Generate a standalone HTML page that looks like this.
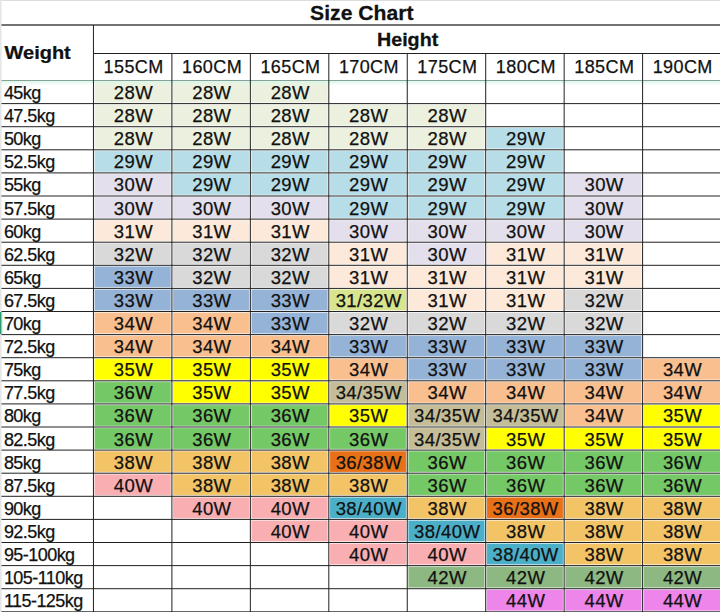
<!DOCTYPE html>
<html><head><meta charset="utf-8"><title>Size Chart</title>
<style>
html,body{margin:0;padding:0;background:#fff;width:720px;height:612px;overflow:hidden;}
svg{display:block;font-family:"Liberation Sans", sans-serif;}
text{fill:#111;stroke:#111;stroke-width:0.25px;}
</style></head>
<body>
<svg width="720" height="612" viewBox="0 0 720 612">
<defs><linearGradient id="mint" x1="0" y1="0" x2="0" y2="1"><stop offset="0" stop-color="#d4f6e4" stop-opacity="0.85"/><stop offset="0.45" stop-color="#dcf7ea" stop-opacity="0.5"/><stop offset="1" stop-color="#e8faf2" stop-opacity="0"/></linearGradient></defs>
<rect x="0" y="0" width="720" height="612" fill="#fff"/>
<rect x="94.45" y="81.50" width="76.45" height="21.10" fill="#EBF1DE" stroke="#fff" stroke-opacity="0.3" stroke-width="1"/>
<rect x="172.90" y="81.50" width="76.45" height="21.10" fill="#EBF1DE" stroke="#fff" stroke-opacity="0.3" stroke-width="1"/>
<rect x="251.35" y="81.50" width="76.45" height="21.10" fill="#EBF1DE" stroke="#fff" stroke-opacity="0.3" stroke-width="1"/>
<rect x="94.45" y="104.60" width="76.45" height="21.10" fill="#EBF1DE" stroke="#fff" stroke-opacity="0.3" stroke-width="1"/>
<rect x="172.90" y="104.60" width="76.45" height="21.10" fill="#EBF1DE" stroke="#fff" stroke-opacity="0.3" stroke-width="1"/>
<rect x="251.35" y="104.60" width="76.45" height="21.10" fill="#EBF1DE" stroke="#fff" stroke-opacity="0.3" stroke-width="1"/>
<rect x="329.80" y="104.60" width="76.45" height="21.10" fill="#EBF1DE" stroke="#fff" stroke-opacity="0.3" stroke-width="1"/>
<rect x="408.25" y="104.60" width="76.45" height="21.10" fill="#EBF1DE" stroke="#fff" stroke-opacity="0.3" stroke-width="1"/>
<rect x="94.45" y="127.70" width="76.45" height="21.10" fill="#EBF1DE" stroke="#fff" stroke-opacity="0.3" stroke-width="1"/>
<rect x="172.90" y="127.70" width="76.45" height="21.10" fill="#EBF1DE" stroke="#fff" stroke-opacity="0.3" stroke-width="1"/>
<rect x="251.35" y="127.70" width="76.45" height="21.10" fill="#EBF1DE" stroke="#fff" stroke-opacity="0.3" stroke-width="1"/>
<rect x="329.80" y="127.70" width="76.45" height="21.10" fill="#EBF1DE" stroke="#fff" stroke-opacity="0.3" stroke-width="1"/>
<rect x="408.25" y="127.70" width="76.45" height="21.10" fill="#EBF1DE" stroke="#fff" stroke-opacity="0.3" stroke-width="1"/>
<rect x="486.70" y="127.70" width="76.45" height="21.10" fill="#B7DEE8" stroke="#fff" stroke-opacity="0.3" stroke-width="1"/>
<rect x="94.45" y="150.80" width="76.45" height="21.10" fill="#B7DEE8" stroke="#fff" stroke-opacity="0.3" stroke-width="1"/>
<rect x="172.90" y="150.80" width="76.45" height="21.10" fill="#B7DEE8" stroke="#fff" stroke-opacity="0.3" stroke-width="1"/>
<rect x="251.35" y="150.80" width="76.45" height="21.10" fill="#B7DEE8" stroke="#fff" stroke-opacity="0.3" stroke-width="1"/>
<rect x="329.80" y="150.80" width="76.45" height="21.10" fill="#B7DEE8" stroke="#fff" stroke-opacity="0.3" stroke-width="1"/>
<rect x="408.25" y="150.80" width="76.45" height="21.10" fill="#B7DEE8" stroke="#fff" stroke-opacity="0.3" stroke-width="1"/>
<rect x="486.70" y="150.80" width="76.45" height="21.10" fill="#B7DEE8" stroke="#fff" stroke-opacity="0.3" stroke-width="1"/>
<rect x="94.45" y="173.90" width="76.45" height="21.10" fill="#E4DFEC" stroke="#fff" stroke-opacity="0.3" stroke-width="1"/>
<rect x="172.90" y="173.90" width="76.45" height="21.10" fill="#B7DEE8" stroke="#fff" stroke-opacity="0.3" stroke-width="1"/>
<rect x="251.35" y="173.90" width="76.45" height="21.10" fill="#B7DEE8" stroke="#fff" stroke-opacity="0.3" stroke-width="1"/>
<rect x="329.80" y="173.90" width="76.45" height="21.10" fill="#B7DEE8" stroke="#fff" stroke-opacity="0.3" stroke-width="1"/>
<rect x="408.25" y="173.90" width="76.45" height="21.10" fill="#B7DEE8" stroke="#fff" stroke-opacity="0.3" stroke-width="1"/>
<rect x="486.70" y="173.90" width="76.45" height="21.10" fill="#B7DEE8" stroke="#fff" stroke-opacity="0.3" stroke-width="1"/>
<rect x="565.15" y="173.90" width="76.45" height="21.10" fill="#E4DFEC" stroke="#fff" stroke-opacity="0.3" stroke-width="1"/>
<rect x="94.45" y="197.00" width="76.45" height="21.10" fill="#E4DFEC" stroke="#fff" stroke-opacity="0.3" stroke-width="1"/>
<rect x="172.90" y="197.00" width="76.45" height="21.10" fill="#E4DFEC" stroke="#fff" stroke-opacity="0.3" stroke-width="1"/>
<rect x="251.35" y="197.00" width="76.45" height="21.10" fill="#E4DFEC" stroke="#fff" stroke-opacity="0.3" stroke-width="1"/>
<rect x="329.80" y="197.00" width="76.45" height="21.10" fill="#B7DEE8" stroke="#fff" stroke-opacity="0.3" stroke-width="1"/>
<rect x="408.25" y="197.00" width="76.45" height="21.10" fill="#B7DEE8" stroke="#fff" stroke-opacity="0.3" stroke-width="1"/>
<rect x="486.70" y="197.00" width="76.45" height="21.10" fill="#B7DEE8" stroke="#fff" stroke-opacity="0.3" stroke-width="1"/>
<rect x="565.15" y="197.00" width="76.45" height="21.10" fill="#E4DFEC" stroke="#fff" stroke-opacity="0.3" stroke-width="1"/>
<rect x="94.45" y="220.10" width="76.45" height="21.10" fill="#FDE9D9" stroke="#fff" stroke-opacity="0.3" stroke-width="1"/>
<rect x="172.90" y="220.10" width="76.45" height="21.10" fill="#FDE9D9" stroke="#fff" stroke-opacity="0.3" stroke-width="1"/>
<rect x="251.35" y="220.10" width="76.45" height="21.10" fill="#FDE9D9" stroke="#fff" stroke-opacity="0.3" stroke-width="1"/>
<rect x="329.80" y="220.10" width="76.45" height="21.10" fill="#E4DFEC" stroke="#fff" stroke-opacity="0.3" stroke-width="1"/>
<rect x="408.25" y="220.10" width="76.45" height="21.10" fill="#E4DFEC" stroke="#fff" stroke-opacity="0.3" stroke-width="1"/>
<rect x="486.70" y="220.10" width="76.45" height="21.10" fill="#E4DFEC" stroke="#fff" stroke-opacity="0.3" stroke-width="1"/>
<rect x="565.15" y="220.10" width="76.45" height="21.10" fill="#E4DFEC" stroke="#fff" stroke-opacity="0.3" stroke-width="1"/>
<rect x="94.45" y="243.20" width="76.45" height="21.10" fill="#D9D9D9" stroke="#fff" stroke-opacity="0.3" stroke-width="1"/>
<rect x="172.90" y="243.20" width="76.45" height="21.10" fill="#D9D9D9" stroke="#fff" stroke-opacity="0.3" stroke-width="1"/>
<rect x="251.35" y="243.20" width="76.45" height="21.10" fill="#D9D9D9" stroke="#fff" stroke-opacity="0.3" stroke-width="1"/>
<rect x="329.80" y="243.20" width="76.45" height="21.10" fill="#FDE9D9" stroke="#fff" stroke-opacity="0.3" stroke-width="1"/>
<rect x="408.25" y="243.20" width="76.45" height="21.10" fill="#E4DFEC" stroke="#fff" stroke-opacity="0.3" stroke-width="1"/>
<rect x="486.70" y="243.20" width="76.45" height="21.10" fill="#FDE9D9" stroke="#fff" stroke-opacity="0.3" stroke-width="1"/>
<rect x="565.15" y="243.20" width="76.45" height="21.10" fill="#FDE9D9" stroke="#fff" stroke-opacity="0.3" stroke-width="1"/>
<rect x="94.45" y="266.30" width="76.45" height="21.10" fill="#95B3D7" stroke="#fff" stroke-opacity="0.3" stroke-width="1"/>
<rect x="172.90" y="266.30" width="76.45" height="21.10" fill="#D9D9D9" stroke="#fff" stroke-opacity="0.3" stroke-width="1"/>
<rect x="251.35" y="266.30" width="76.45" height="21.10" fill="#D9D9D9" stroke="#fff" stroke-opacity="0.3" stroke-width="1"/>
<rect x="329.80" y="266.30" width="76.45" height="21.10" fill="#FDE9D9" stroke="#fff" stroke-opacity="0.3" stroke-width="1"/>
<rect x="408.25" y="266.30" width="76.45" height="21.10" fill="#FDE9D9" stroke="#fff" stroke-opacity="0.3" stroke-width="1"/>
<rect x="486.70" y="266.30" width="76.45" height="21.10" fill="#FDE9D9" stroke="#fff" stroke-opacity="0.3" stroke-width="1"/>
<rect x="565.15" y="266.30" width="76.45" height="21.10" fill="#FDE9D9" stroke="#fff" stroke-opacity="0.3" stroke-width="1"/>
<rect x="94.45" y="289.40" width="76.45" height="21.10" fill="#95B3D7" stroke="#fff" stroke-opacity="0.3" stroke-width="1"/>
<rect x="172.90" y="289.40" width="76.45" height="21.10" fill="#95B3D7" stroke="#fff" stroke-opacity="0.3" stroke-width="1"/>
<rect x="251.35" y="289.40" width="76.45" height="21.10" fill="#95B3D7" stroke="#fff" stroke-opacity="0.3" stroke-width="1"/>
<rect x="329.80" y="289.40" width="76.45" height="21.10" fill="#D9E48E" stroke="#fff" stroke-opacity="0.3" stroke-width="1"/>
<rect x="408.25" y="289.40" width="76.45" height="21.10" fill="#FDE9D9" stroke="#fff" stroke-opacity="0.3" stroke-width="1"/>
<rect x="486.70" y="289.40" width="76.45" height="21.10" fill="#FDE9D9" stroke="#fff" stroke-opacity="0.3" stroke-width="1"/>
<rect x="565.15" y="289.40" width="76.45" height="21.10" fill="#D9D9D9" stroke="#fff" stroke-opacity="0.3" stroke-width="1"/>
<rect x="94.45" y="312.50" width="76.45" height="21.10" fill="#FABF8F" stroke="#fff" stroke-opacity="0.3" stroke-width="1"/>
<rect x="172.90" y="312.50" width="76.45" height="21.10" fill="#FABF8F" stroke="#fff" stroke-opacity="0.3" stroke-width="1"/>
<rect x="251.35" y="312.50" width="76.45" height="21.10" fill="#95B3D7" stroke="#fff" stroke-opacity="0.3" stroke-width="1"/>
<rect x="329.80" y="312.50" width="76.45" height="21.10" fill="#D9D9D9" stroke="#fff" stroke-opacity="0.3" stroke-width="1"/>
<rect x="408.25" y="312.50" width="76.45" height="21.10" fill="#D9D9D9" stroke="#fff" stroke-opacity="0.3" stroke-width="1"/>
<rect x="486.70" y="312.50" width="76.45" height="21.10" fill="#D9D9D9" stroke="#fff" stroke-opacity="0.3" stroke-width="1"/>
<rect x="565.15" y="312.50" width="76.45" height="21.10" fill="#D9D9D9" stroke="#fff" stroke-opacity="0.3" stroke-width="1"/>
<rect x="94.45" y="335.60" width="76.45" height="21.10" fill="#FABF8F" stroke="#fff" stroke-opacity="0.3" stroke-width="1"/>
<rect x="172.90" y="335.60" width="76.45" height="21.10" fill="#FABF8F" stroke="#fff" stroke-opacity="0.3" stroke-width="1"/>
<rect x="251.35" y="335.60" width="76.45" height="21.10" fill="#FABF8F" stroke="#fff" stroke-opacity="0.3" stroke-width="1"/>
<rect x="329.80" y="335.60" width="76.45" height="21.10" fill="#95B3D7" stroke="#fff" stroke-opacity="0.3" stroke-width="1"/>
<rect x="408.25" y="335.60" width="76.45" height="21.10" fill="#95B3D7" stroke="#fff" stroke-opacity="0.3" stroke-width="1"/>
<rect x="486.70" y="335.60" width="76.45" height="21.10" fill="#95B3D7" stroke="#fff" stroke-opacity="0.3" stroke-width="1"/>
<rect x="565.15" y="335.60" width="76.45" height="21.10" fill="#95B3D7" stroke="#fff" stroke-opacity="0.3" stroke-width="1"/>
<rect x="94.45" y="358.70" width="76.45" height="21.10" fill="#FFFF00" stroke="#fff" stroke-opacity="0.3" stroke-width="1"/>
<rect x="172.90" y="358.70" width="76.45" height="21.10" fill="#FFFF00" stroke="#fff" stroke-opacity="0.3" stroke-width="1"/>
<rect x="251.35" y="358.70" width="76.45" height="21.10" fill="#FFFF00" stroke="#fff" stroke-opacity="0.3" stroke-width="1"/>
<rect x="329.80" y="358.70" width="76.45" height="21.10" fill="#FABF8F" stroke="#fff" stroke-opacity="0.3" stroke-width="1"/>
<rect x="408.25" y="358.70" width="76.45" height="21.10" fill="#95B3D7" stroke="#fff" stroke-opacity="0.3" stroke-width="1"/>
<rect x="486.70" y="358.70" width="76.45" height="21.10" fill="#95B3D7" stroke="#fff" stroke-opacity="0.3" stroke-width="1"/>
<rect x="565.15" y="358.70" width="76.45" height="21.10" fill="#95B3D7" stroke="#fff" stroke-opacity="0.3" stroke-width="1"/>
<rect x="643.60" y="358.70" width="79.40" height="21.10" fill="#FABF8F" stroke="#fff" stroke-opacity="0.3" stroke-width="1"/>
<rect x="94.45" y="381.80" width="76.45" height="21.10" fill="#74C866" stroke="#fff" stroke-opacity="0.3" stroke-width="1"/>
<rect x="172.90" y="381.80" width="76.45" height="21.10" fill="#FFFF00" stroke="#fff" stroke-opacity="0.3" stroke-width="1"/>
<rect x="251.35" y="381.80" width="76.45" height="21.10" fill="#FFFF00" stroke="#fff" stroke-opacity="0.3" stroke-width="1"/>
<rect x="329.80" y="381.80" width="76.45" height="21.10" fill="#C4BD97" stroke="#fff" stroke-opacity="0.3" stroke-width="1"/>
<rect x="408.25" y="381.80" width="76.45" height="21.10" fill="#FABF8F" stroke="#fff" stroke-opacity="0.3" stroke-width="1"/>
<rect x="486.70" y="381.80" width="76.45" height="21.10" fill="#FABF8F" stroke="#fff" stroke-opacity="0.3" stroke-width="1"/>
<rect x="565.15" y="381.80" width="76.45" height="21.10" fill="#FABF8F" stroke="#fff" stroke-opacity="0.3" stroke-width="1"/>
<rect x="643.60" y="381.80" width="79.40" height="21.10" fill="#FABF8F" stroke="#fff" stroke-opacity="0.3" stroke-width="1"/>
<rect x="94.45" y="404.90" width="76.45" height="21.10" fill="#74C866" stroke="#fff" stroke-opacity="0.3" stroke-width="1"/>
<rect x="172.90" y="404.90" width="76.45" height="21.10" fill="#74C866" stroke="#fff" stroke-opacity="0.3" stroke-width="1"/>
<rect x="251.35" y="404.90" width="76.45" height="21.10" fill="#74C866" stroke="#fff" stroke-opacity="0.3" stroke-width="1"/>
<rect x="329.80" y="404.90" width="76.45" height="21.10" fill="#FFFF00" stroke="#fff" stroke-opacity="0.3" stroke-width="1"/>
<rect x="408.25" y="404.90" width="76.45" height="21.10" fill="#C4BD97" stroke="#fff" stroke-opacity="0.3" stroke-width="1"/>
<rect x="486.70" y="404.90" width="76.45" height="21.10" fill="#C4BD97" stroke="#fff" stroke-opacity="0.3" stroke-width="1"/>
<rect x="565.15" y="404.90" width="76.45" height="21.10" fill="#FABF8F" stroke="#fff" stroke-opacity="0.3" stroke-width="1"/>
<rect x="643.60" y="404.90" width="79.40" height="21.10" fill="#FFFF00" stroke="#fff" stroke-opacity="0.3" stroke-width="1"/>
<rect x="94.45" y="428.00" width="76.45" height="21.10" fill="#74C866" stroke="#fff" stroke-opacity="0.3" stroke-width="1"/>
<rect x="172.90" y="428.00" width="76.45" height="21.10" fill="#74C866" stroke="#fff" stroke-opacity="0.3" stroke-width="1"/>
<rect x="251.35" y="428.00" width="76.45" height="21.10" fill="#74C866" stroke="#fff" stroke-opacity="0.3" stroke-width="1"/>
<rect x="329.80" y="428.00" width="76.45" height="21.10" fill="#74C866" stroke="#fff" stroke-opacity="0.3" stroke-width="1"/>
<rect x="408.25" y="428.00" width="76.45" height="21.10" fill="#C4BD97" stroke="#fff" stroke-opacity="0.3" stroke-width="1"/>
<rect x="486.70" y="428.00" width="76.45" height="21.10" fill="#FFFF00" stroke="#fff" stroke-opacity="0.3" stroke-width="1"/>
<rect x="565.15" y="428.00" width="76.45" height="21.10" fill="#FFFF00" stroke="#fff" stroke-opacity="0.3" stroke-width="1"/>
<rect x="643.60" y="428.00" width="79.40" height="21.10" fill="#FFFF00" stroke="#fff" stroke-opacity="0.3" stroke-width="1"/>
<rect x="94.45" y="451.10" width="76.45" height="21.10" fill="#F3C466" stroke="#fff" stroke-opacity="0.3" stroke-width="1"/>
<rect x="172.90" y="451.10" width="76.45" height="21.10" fill="#F3C466" stroke="#fff" stroke-opacity="0.3" stroke-width="1"/>
<rect x="251.35" y="451.10" width="76.45" height="21.10" fill="#F3C466" stroke="#fff" stroke-opacity="0.3" stroke-width="1"/>
<rect x="329.80" y="451.10" width="76.45" height="21.10" fill="#E87016" stroke="#fff" stroke-opacity="0.3" stroke-width="1"/>
<rect x="408.25" y="451.10" width="76.45" height="21.10" fill="#74C866" stroke="#fff" stroke-opacity="0.3" stroke-width="1"/>
<rect x="486.70" y="451.10" width="76.45" height="21.10" fill="#74C866" stroke="#fff" stroke-opacity="0.3" stroke-width="1"/>
<rect x="565.15" y="451.10" width="76.45" height="21.10" fill="#74C866" stroke="#fff" stroke-opacity="0.3" stroke-width="1"/>
<rect x="643.60" y="451.10" width="79.40" height="21.10" fill="#74C866" stroke="#fff" stroke-opacity="0.3" stroke-width="1"/>
<rect x="94.45" y="474.20" width="76.45" height="21.10" fill="#F9AEB1" stroke="#fff" stroke-opacity="0.3" stroke-width="1"/>
<rect x="172.90" y="474.20" width="76.45" height="21.10" fill="#F3C466" stroke="#fff" stroke-opacity="0.3" stroke-width="1"/>
<rect x="251.35" y="474.20" width="76.45" height="21.10" fill="#F3C466" stroke="#fff" stroke-opacity="0.3" stroke-width="1"/>
<rect x="329.80" y="474.20" width="76.45" height="21.10" fill="#F3C466" stroke="#fff" stroke-opacity="0.3" stroke-width="1"/>
<rect x="408.25" y="474.20" width="76.45" height="21.10" fill="#74C866" stroke="#fff" stroke-opacity="0.3" stroke-width="1"/>
<rect x="486.70" y="474.20" width="76.45" height="21.10" fill="#74C866" stroke="#fff" stroke-opacity="0.3" stroke-width="1"/>
<rect x="565.15" y="474.20" width="76.45" height="21.10" fill="#74C866" stroke="#fff" stroke-opacity="0.3" stroke-width="1"/>
<rect x="643.60" y="474.20" width="79.40" height="21.10" fill="#74C866" stroke="#fff" stroke-opacity="0.3" stroke-width="1"/>
<rect x="172.90" y="497.30" width="76.45" height="21.10" fill="#F9AEB1" stroke="#fff" stroke-opacity="0.3" stroke-width="1"/>
<rect x="251.35" y="497.30" width="76.45" height="21.10" fill="#F9AEB1" stroke="#fff" stroke-opacity="0.3" stroke-width="1"/>
<rect x="329.80" y="497.30" width="76.45" height="21.10" fill="#4BAFC8" stroke="#fff" stroke-opacity="0.3" stroke-width="1"/>
<rect x="408.25" y="497.30" width="76.45" height="21.10" fill="#F3C466" stroke="#fff" stroke-opacity="0.3" stroke-width="1"/>
<rect x="486.70" y="497.30" width="76.45" height="21.10" fill="#E87016" stroke="#fff" stroke-opacity="0.3" stroke-width="1"/>
<rect x="565.15" y="497.30" width="76.45" height="21.10" fill="#F3C466" stroke="#fff" stroke-opacity="0.3" stroke-width="1"/>
<rect x="643.60" y="497.30" width="79.40" height="21.10" fill="#F3C466" stroke="#fff" stroke-opacity="0.3" stroke-width="1"/>
<rect x="251.35" y="520.40" width="76.45" height="21.10" fill="#F9AEB1" stroke="#fff" stroke-opacity="0.3" stroke-width="1"/>
<rect x="329.80" y="520.40" width="76.45" height="21.10" fill="#F9AEB1" stroke="#fff" stroke-opacity="0.3" stroke-width="1"/>
<rect x="408.25" y="520.40" width="76.45" height="21.10" fill="#4BAFC8" stroke="#fff" stroke-opacity="0.3" stroke-width="1"/>
<rect x="486.70" y="520.40" width="76.45" height="21.10" fill="#F3C466" stroke="#fff" stroke-opacity="0.3" stroke-width="1"/>
<rect x="565.15" y="520.40" width="76.45" height="21.10" fill="#F3C466" stroke="#fff" stroke-opacity="0.3" stroke-width="1"/>
<rect x="643.60" y="520.40" width="79.40" height="21.10" fill="#F3C466" stroke="#fff" stroke-opacity="0.3" stroke-width="1"/>
<rect x="329.80" y="543.50" width="76.45" height="21.10" fill="#F9AEB1" stroke="#fff" stroke-opacity="0.3" stroke-width="1"/>
<rect x="408.25" y="543.50" width="76.45" height="21.10" fill="#F9AEB1" stroke="#fff" stroke-opacity="0.3" stroke-width="1"/>
<rect x="486.70" y="543.50" width="76.45" height="21.10" fill="#4BAFC8" stroke="#fff" stroke-opacity="0.3" stroke-width="1"/>
<rect x="565.15" y="543.50" width="76.45" height="21.10" fill="#F3C466" stroke="#fff" stroke-opacity="0.3" stroke-width="1"/>
<rect x="643.60" y="543.50" width="79.40" height="21.10" fill="#F3C466" stroke="#fff" stroke-opacity="0.3" stroke-width="1"/>
<rect x="408.25" y="566.60" width="76.45" height="21.10" fill="#8DB881" stroke="#fff" stroke-opacity="0.3" stroke-width="1"/>
<rect x="486.70" y="566.60" width="76.45" height="21.10" fill="#8DB881" stroke="#fff" stroke-opacity="0.3" stroke-width="1"/>
<rect x="565.15" y="566.60" width="76.45" height="21.10" fill="#8DB881" stroke="#fff" stroke-opacity="0.3" stroke-width="1"/>
<rect x="643.60" y="566.60" width="79.40" height="21.10" fill="#8DB881" stroke="#fff" stroke-opacity="0.3" stroke-width="1"/>
<rect x="486.70" y="589.70" width="76.45" height="21.10" fill="#EE85EA" stroke="#fff" stroke-opacity="0.3" stroke-width="1"/>
<rect x="565.15" y="589.70" width="76.45" height="21.10" fill="#EE85EA" stroke="#fff" stroke-opacity="0.3" stroke-width="1"/>
<rect x="643.60" y="589.70" width="79.40" height="21.10" fill="#EE85EA" stroke="#fff" stroke-opacity="0.3" stroke-width="1"/>
<rect x="1.50" y="81.00" width="720.00" height="5.00" fill="url(#mint)"/>
<rect x="0.00" y="0.00" width="720.00" height="1.00" fill="#dcdcdc"/>
<rect x="0.00" y="0.00" width="1.60" height="612.00" fill="#e6e6e6"/>
<rect x="0.00" y="312.00" width="1.60" height="22.10" fill="#2f9a72"/>
<rect x="1.60" y="312.00" width="1.00" height="22.10" fill="#bfeedd" opacity="0.8"/>
<rect x="1.50" y="24.00" width="720.00" height="2.00" fill="#737373"/>
<rect x="93.45" y="53.00" width="720.00" height="1.00" fill="#222222"/>
<rect x="1.50" y="80.00" width="720.00" height="1.00" fill="#86a199"/>
<rect x="1.50" y="103.10" width="720.00" height="1.00" fill="#222222"/>
<rect x="1.50" y="126.20" width="720.00" height="1.00" fill="#222222"/>
<rect x="1.50" y="149.30" width="720.00" height="1.00" fill="#222222"/>
<rect x="1.50" y="172.40" width="720.00" height="1.00" fill="#222222"/>
<rect x="1.50" y="195.50" width="720.00" height="1.00" fill="#222222"/>
<rect x="1.50" y="218.60" width="720.00" height="1.00" fill="#222222"/>
<rect x="1.50" y="241.70" width="720.00" height="1.00" fill="#222222"/>
<rect x="1.50" y="264.80" width="720.00" height="1.00" fill="#222222"/>
<rect x="1.50" y="287.90" width="720.00" height="1.00" fill="#222222"/>
<rect x="1.50" y="311.00" width="720.00" height="1.00" fill="#222222"/>
<rect x="1.50" y="334.10" width="720.00" height="1.00" fill="#222222"/>
<rect x="1.50" y="357.20" width="720.00" height="1.00" fill="#222222"/>
<rect x="1.50" y="380.30" width="720.00" height="1.00" fill="#222222"/>
<rect x="1.50" y="403.40" width="720.00" height="1.00" fill="#222222"/>
<rect x="1.50" y="426.50" width="720.00" height="1.00" fill="#222222"/>
<rect x="1.50" y="449.60" width="720.00" height="1.00" fill="#222222"/>
<rect x="1.50" y="472.70" width="720.00" height="1.00" fill="#222222"/>
<rect x="1.50" y="495.80" width="720.00" height="1.00" fill="#222222"/>
<rect x="1.50" y="518.90" width="720.00" height="1.00" fill="#222222"/>
<rect x="1.50" y="542.00" width="720.00" height="1.00" fill="#222222"/>
<rect x="1.50" y="565.10" width="720.00" height="1.00" fill="#222222"/>
<rect x="1.50" y="588.20" width="720.00" height="1.00" fill="#222222"/>
<rect x="1.50" y="611.30" width="720.00" height="1.00" fill="#222222"/>
<rect x="92.95" y="25.00" width="1.00" height="612.00" fill="#222222"/>
<rect x="171.40" y="53.00" width="1.00" height="612.00" fill="#222222"/>
<rect x="249.85" y="53.00" width="1.00" height="612.00" fill="#222222"/>
<rect x="328.30" y="53.00" width="1.00" height="612.00" fill="#222222"/>
<rect x="406.75" y="53.00" width="1.00" height="612.00" fill="#222222"/>
<rect x="485.20" y="53.00" width="1.00" height="612.00" fill="#222222"/>
<rect x="563.65" y="53.00" width="1.00" height="612.00" fill="#222222"/>
<rect x="642.10" y="53.00" width="1.00" height="612.00" fill="#222222"/>
<rect x="720.55" y="53.00" width="1.00" height="612.00" fill="#222222"/>
<text transform="translate(361.80,19.60) scale(1.058,1)" font-size="20" text-anchor="middle" font-weight="bold">Size Chart</text>
<text transform="translate(407.60,45.60) scale(1.095,1)" font-size="18" text-anchor="middle" font-weight="bold">Height</text>
<text transform="translate(4.60,58.90) scale(1.11,1)" font-size="18" font-weight="bold">Weight</text>
<text x="133.58" y="73.30" font-size="18" text-anchor="middle" letter-spacing="0.4">155CM</text>
<text x="212.03" y="73.30" font-size="18" text-anchor="middle" letter-spacing="0.4">160CM</text>
<text x="290.48" y="73.30" font-size="18" text-anchor="middle" letter-spacing="0.4">165CM</text>
<text x="368.92" y="73.30" font-size="18" text-anchor="middle" letter-spacing="0.4">170CM</text>
<text x="447.38" y="73.30" font-size="18" text-anchor="middle" letter-spacing="0.4">175CM</text>
<text x="525.83" y="73.30" font-size="18" text-anchor="middle" letter-spacing="0.4">180CM</text>
<text x="604.27" y="73.30" font-size="18" text-anchor="middle" letter-spacing="0.4">185CM</text>
<text x="682.73" y="73.30" font-size="18" text-anchor="middle" letter-spacing="0.4">190CM</text>
<text x="3.90" y="99.05" font-size="18" letter-spacing="-0.55">45kg</text>
<text x="133.38" y="99.05" font-size="18.5" text-anchor="middle" letter-spacing="0.4">28W</text>
<text x="211.82" y="99.05" font-size="18.5" text-anchor="middle" letter-spacing="0.4">28W</text>
<text x="290.28" y="99.05" font-size="18.5" text-anchor="middle" letter-spacing="0.4">28W</text>
<text x="3.90" y="122.15" font-size="18" letter-spacing="-0.55">47.5kg</text>
<text x="133.38" y="122.15" font-size="18.5" text-anchor="middle" letter-spacing="0.4">28W</text>
<text x="211.82" y="122.15" font-size="18.5" text-anchor="middle" letter-spacing="0.4">28W</text>
<text x="290.28" y="122.15" font-size="18.5" text-anchor="middle" letter-spacing="0.4">28W</text>
<text x="368.72" y="122.15" font-size="18.5" text-anchor="middle" letter-spacing="0.4">28W</text>
<text x="447.18" y="122.15" font-size="18.5" text-anchor="middle" letter-spacing="0.4">28W</text>
<text x="3.90" y="145.25" font-size="18" letter-spacing="-0.55">50kg</text>
<text x="133.38" y="145.25" font-size="18.5" text-anchor="middle" letter-spacing="0.4">28W</text>
<text x="211.82" y="145.25" font-size="18.5" text-anchor="middle" letter-spacing="0.4">28W</text>
<text x="290.28" y="145.25" font-size="18.5" text-anchor="middle" letter-spacing="0.4">28W</text>
<text x="368.72" y="145.25" font-size="18.5" text-anchor="middle" letter-spacing="0.4">28W</text>
<text x="447.18" y="145.25" font-size="18.5" text-anchor="middle" letter-spacing="0.4">28W</text>
<text x="525.63" y="145.25" font-size="18.5" text-anchor="middle" letter-spacing="0.4">29W</text>
<text x="3.90" y="168.35" font-size="18" letter-spacing="-0.55">52.5kg</text>
<text x="133.38" y="168.35" font-size="18.5" text-anchor="middle" letter-spacing="0.4">29W</text>
<text x="211.82" y="168.35" font-size="18.5" text-anchor="middle" letter-spacing="0.4">29W</text>
<text x="290.28" y="168.35" font-size="18.5" text-anchor="middle" letter-spacing="0.4">29W</text>
<text x="368.72" y="168.35" font-size="18.5" text-anchor="middle" letter-spacing="0.4">29W</text>
<text x="447.18" y="168.35" font-size="18.5" text-anchor="middle" letter-spacing="0.4">29W</text>
<text x="525.63" y="168.35" font-size="18.5" text-anchor="middle" letter-spacing="0.4">29W</text>
<text x="3.90" y="191.45" font-size="18" letter-spacing="-0.55">55kg</text>
<text x="133.38" y="191.45" font-size="18.5" text-anchor="middle" letter-spacing="0.4">30W</text>
<text x="211.82" y="191.45" font-size="18.5" text-anchor="middle" letter-spacing="0.4">29W</text>
<text x="290.28" y="191.45" font-size="18.5" text-anchor="middle" letter-spacing="0.4">29W</text>
<text x="368.72" y="191.45" font-size="18.5" text-anchor="middle" letter-spacing="0.4">29W</text>
<text x="447.18" y="191.45" font-size="18.5" text-anchor="middle" letter-spacing="0.4">29W</text>
<text x="525.63" y="191.45" font-size="18.5" text-anchor="middle" letter-spacing="0.4">29W</text>
<text x="604.08" y="191.45" font-size="18.5" text-anchor="middle" letter-spacing="0.4">30W</text>
<text x="3.90" y="214.55" font-size="18" letter-spacing="-0.55">57.5kg</text>
<text x="133.38" y="214.55" font-size="18.5" text-anchor="middle" letter-spacing="0.4">30W</text>
<text x="211.82" y="214.55" font-size="18.5" text-anchor="middle" letter-spacing="0.4">30W</text>
<text x="290.28" y="214.55" font-size="18.5" text-anchor="middle" letter-spacing="0.4">30W</text>
<text x="368.72" y="214.55" font-size="18.5" text-anchor="middle" letter-spacing="0.4">29W</text>
<text x="447.18" y="214.55" font-size="18.5" text-anchor="middle" letter-spacing="0.4">29W</text>
<text x="525.63" y="214.55" font-size="18.5" text-anchor="middle" letter-spacing="0.4">29W</text>
<text x="604.08" y="214.55" font-size="18.5" text-anchor="middle" letter-spacing="0.4">30W</text>
<text x="3.90" y="237.65" font-size="18" letter-spacing="-0.55">60kg</text>
<text x="133.38" y="237.65" font-size="18.5" text-anchor="middle" letter-spacing="0.4">31W</text>
<text x="211.82" y="237.65" font-size="18.5" text-anchor="middle" letter-spacing="0.4">31W</text>
<text x="290.28" y="237.65" font-size="18.5" text-anchor="middle" letter-spacing="0.4">31W</text>
<text x="368.72" y="237.65" font-size="18.5" text-anchor="middle" letter-spacing="0.4">30W</text>
<text x="447.18" y="237.65" font-size="18.5" text-anchor="middle" letter-spacing="0.4">30W</text>
<text x="525.63" y="237.65" font-size="18.5" text-anchor="middle" letter-spacing="0.4">30W</text>
<text x="604.08" y="237.65" font-size="18.5" text-anchor="middle" letter-spacing="0.4">30W</text>
<text x="3.90" y="260.75" font-size="18" letter-spacing="-0.55">62.5kg</text>
<text x="133.38" y="260.75" font-size="18.5" text-anchor="middle" letter-spacing="0.4">32W</text>
<text x="211.82" y="260.75" font-size="18.5" text-anchor="middle" letter-spacing="0.4">32W</text>
<text x="290.28" y="260.75" font-size="18.5" text-anchor="middle" letter-spacing="0.4">32W</text>
<text x="368.72" y="260.75" font-size="18.5" text-anchor="middle" letter-spacing="0.4">31W</text>
<text x="447.18" y="260.75" font-size="18.5" text-anchor="middle" letter-spacing="0.4">30W</text>
<text x="525.63" y="260.75" font-size="18.5" text-anchor="middle" letter-spacing="0.4">31W</text>
<text x="604.08" y="260.75" font-size="18.5" text-anchor="middle" letter-spacing="0.4">31W</text>
<text x="3.90" y="283.85" font-size="18" letter-spacing="-0.55">65kg</text>
<text x="133.38" y="283.85" font-size="18.5" text-anchor="middle" letter-spacing="0.4">33W</text>
<text x="211.82" y="283.85" font-size="18.5" text-anchor="middle" letter-spacing="0.4">32W</text>
<text x="290.28" y="283.85" font-size="18.5" text-anchor="middle" letter-spacing="0.4">32W</text>
<text x="368.72" y="283.85" font-size="18.5" text-anchor="middle" letter-spacing="0.4">31W</text>
<text x="447.18" y="283.85" font-size="18.5" text-anchor="middle" letter-spacing="0.4">31W</text>
<text x="525.63" y="283.85" font-size="18.5" text-anchor="middle" letter-spacing="0.4">31W</text>
<text x="604.08" y="283.85" font-size="18.5" text-anchor="middle" letter-spacing="0.4">31W</text>
<text x="3.90" y="306.95" font-size="18" letter-spacing="-0.55">67.5kg</text>
<text x="133.38" y="306.95" font-size="18.5" text-anchor="middle" letter-spacing="0.4">33W</text>
<text x="211.82" y="306.95" font-size="18.5" text-anchor="middle" letter-spacing="0.4">33W</text>
<text x="290.28" y="306.95" font-size="18.5" text-anchor="middle" letter-spacing="0.4">33W</text>
<text x="368.72" y="306.95" font-size="18.5" text-anchor="middle" letter-spacing="0.4">31/32W</text>
<text x="447.18" y="306.95" font-size="18.5" text-anchor="middle" letter-spacing="0.4">31W</text>
<text x="525.63" y="306.95" font-size="18.5" text-anchor="middle" letter-spacing="0.4">31W</text>
<text x="604.08" y="306.95" font-size="18.5" text-anchor="middle" letter-spacing="0.4">32W</text>
<text x="3.90" y="330.05" font-size="18" letter-spacing="-0.55">70kg</text>
<text x="133.38" y="330.05" font-size="18.5" text-anchor="middle" letter-spacing="0.4">34W</text>
<text x="211.82" y="330.05" font-size="18.5" text-anchor="middle" letter-spacing="0.4">34W</text>
<text x="290.28" y="330.05" font-size="18.5" text-anchor="middle" letter-spacing="0.4">33W</text>
<text x="368.72" y="330.05" font-size="18.5" text-anchor="middle" letter-spacing="0.4">32W</text>
<text x="447.18" y="330.05" font-size="18.5" text-anchor="middle" letter-spacing="0.4">32W</text>
<text x="525.63" y="330.05" font-size="18.5" text-anchor="middle" letter-spacing="0.4">32W</text>
<text x="604.08" y="330.05" font-size="18.5" text-anchor="middle" letter-spacing="0.4">32W</text>
<text x="3.90" y="353.15" font-size="18" letter-spacing="-0.55">72.5kg</text>
<text x="133.38" y="353.15" font-size="18.5" text-anchor="middle" letter-spacing="0.4">34W</text>
<text x="211.82" y="353.15" font-size="18.5" text-anchor="middle" letter-spacing="0.4">34W</text>
<text x="290.28" y="353.15" font-size="18.5" text-anchor="middle" letter-spacing="0.4">34W</text>
<text x="368.72" y="353.15" font-size="18.5" text-anchor="middle" letter-spacing="0.4">33W</text>
<text x="447.18" y="353.15" font-size="18.5" text-anchor="middle" letter-spacing="0.4">33W</text>
<text x="525.63" y="353.15" font-size="18.5" text-anchor="middle" letter-spacing="0.4">33W</text>
<text x="604.08" y="353.15" font-size="18.5" text-anchor="middle" letter-spacing="0.4">33W</text>
<text x="3.90" y="376.25" font-size="18" letter-spacing="-0.55">75kg</text>
<text x="133.38" y="376.25" font-size="18.5" text-anchor="middle" letter-spacing="0.4">35W</text>
<text x="211.82" y="376.25" font-size="18.5" text-anchor="middle" letter-spacing="0.4">35W</text>
<text x="290.28" y="376.25" font-size="18.5" text-anchor="middle" letter-spacing="0.4">35W</text>
<text x="368.72" y="376.25" font-size="18.5" text-anchor="middle" letter-spacing="0.4">34W</text>
<text x="447.18" y="376.25" font-size="18.5" text-anchor="middle" letter-spacing="0.4">33W</text>
<text x="525.63" y="376.25" font-size="18.5" text-anchor="middle" letter-spacing="0.4">33W</text>
<text x="604.08" y="376.25" font-size="18.5" text-anchor="middle" letter-spacing="0.4">33W</text>
<text x="682.53" y="376.25" font-size="18.5" text-anchor="middle" letter-spacing="0.4">34W</text>
<text x="3.90" y="399.35" font-size="18" letter-spacing="-0.55">77.5kg</text>
<text x="133.38" y="399.35" font-size="18.5" text-anchor="middle" letter-spacing="0.4">36W</text>
<text x="211.82" y="399.35" font-size="18.5" text-anchor="middle" letter-spacing="0.4">35W</text>
<text x="290.28" y="399.35" font-size="18.5" text-anchor="middle" letter-spacing="0.4">35W</text>
<text x="368.72" y="399.35" font-size="18.5" text-anchor="middle" letter-spacing="0.4">34/35W</text>
<text x="447.18" y="399.35" font-size="18.5" text-anchor="middle" letter-spacing="0.4">34W</text>
<text x="525.63" y="399.35" font-size="18.5" text-anchor="middle" letter-spacing="0.4">34W</text>
<text x="604.08" y="399.35" font-size="18.5" text-anchor="middle" letter-spacing="0.4">34W</text>
<text x="682.53" y="399.35" font-size="18.5" text-anchor="middle" letter-spacing="0.4">34W</text>
<text x="3.90" y="422.45" font-size="18" letter-spacing="-0.55">80kg</text>
<text x="133.38" y="422.45" font-size="18.5" text-anchor="middle" letter-spacing="0.4">36W</text>
<text x="211.82" y="422.45" font-size="18.5" text-anchor="middle" letter-spacing="0.4">36W</text>
<text x="290.28" y="422.45" font-size="18.5" text-anchor="middle" letter-spacing="0.4">36W</text>
<text x="368.72" y="422.45" font-size="18.5" text-anchor="middle" letter-spacing="0.4">35W</text>
<text x="447.18" y="422.45" font-size="18.5" text-anchor="middle" letter-spacing="0.4">34/35W</text>
<text x="525.63" y="422.45" font-size="18.5" text-anchor="middle" letter-spacing="0.4">34/35W</text>
<text x="604.08" y="422.45" font-size="18.5" text-anchor="middle" letter-spacing="0.4">34W</text>
<text x="682.53" y="422.45" font-size="18.5" text-anchor="middle" letter-spacing="0.4">35W</text>
<text x="3.90" y="445.55" font-size="18" letter-spacing="-0.55">82.5kg</text>
<text x="133.38" y="445.55" font-size="18.5" text-anchor="middle" letter-spacing="0.4">36W</text>
<text x="211.82" y="445.55" font-size="18.5" text-anchor="middle" letter-spacing="0.4">36W</text>
<text x="290.28" y="445.55" font-size="18.5" text-anchor="middle" letter-spacing="0.4">36W</text>
<text x="368.72" y="445.55" font-size="18.5" text-anchor="middle" letter-spacing="0.4">36W</text>
<text x="447.18" y="445.55" font-size="18.5" text-anchor="middle" letter-spacing="0.4">34/35W</text>
<text x="525.63" y="445.55" font-size="18.5" text-anchor="middle" letter-spacing="0.4">35W</text>
<text x="604.08" y="445.55" font-size="18.5" text-anchor="middle" letter-spacing="0.4">35W</text>
<text x="682.53" y="445.55" font-size="18.5" text-anchor="middle" letter-spacing="0.4">35W</text>
<text x="3.90" y="468.65" font-size="18" letter-spacing="-0.55">85kg</text>
<text x="133.38" y="468.65" font-size="18.5" text-anchor="middle" letter-spacing="0.4">38W</text>
<text x="211.82" y="468.65" font-size="18.5" text-anchor="middle" letter-spacing="0.4">38W</text>
<text x="290.28" y="468.65" font-size="18.5" text-anchor="middle" letter-spacing="0.4">38W</text>
<text x="368.72" y="468.65" font-size="18.5" text-anchor="middle" letter-spacing="0.4">36/38W</text>
<text x="447.18" y="468.65" font-size="18.5" text-anchor="middle" letter-spacing="0.4">36W</text>
<text x="525.63" y="468.65" font-size="18.5" text-anchor="middle" letter-spacing="0.4">36W</text>
<text x="604.08" y="468.65" font-size="18.5" text-anchor="middle" letter-spacing="0.4">36W</text>
<text x="682.53" y="468.65" font-size="18.5" text-anchor="middle" letter-spacing="0.4">36W</text>
<text x="3.90" y="491.75" font-size="18" letter-spacing="-0.55">87.5kg</text>
<text x="133.38" y="491.75" font-size="18.5" text-anchor="middle" letter-spacing="0.4">40W</text>
<text x="211.82" y="491.75" font-size="18.5" text-anchor="middle" letter-spacing="0.4">38W</text>
<text x="290.28" y="491.75" font-size="18.5" text-anchor="middle" letter-spacing="0.4">38W</text>
<text x="368.72" y="491.75" font-size="18.5" text-anchor="middle" letter-spacing="0.4">38W</text>
<text x="447.18" y="491.75" font-size="18.5" text-anchor="middle" letter-spacing="0.4">36W</text>
<text x="525.63" y="491.75" font-size="18.5" text-anchor="middle" letter-spacing="0.4">36W</text>
<text x="604.08" y="491.75" font-size="18.5" text-anchor="middle" letter-spacing="0.4">36W</text>
<text x="682.53" y="491.75" font-size="18.5" text-anchor="middle" letter-spacing="0.4">36W</text>
<text x="3.90" y="514.85" font-size="18" letter-spacing="-0.55">90kg</text>
<text x="211.82" y="514.85" font-size="18.5" text-anchor="middle" letter-spacing="0.4">40W</text>
<text x="290.28" y="514.85" font-size="18.5" text-anchor="middle" letter-spacing="0.4">40W</text>
<text x="368.72" y="514.85" font-size="18.5" text-anchor="middle" letter-spacing="0.4">38/40W</text>
<text x="447.18" y="514.85" font-size="18.5" text-anchor="middle" letter-spacing="0.4">38W</text>
<text x="525.63" y="514.85" font-size="18.5" text-anchor="middle" letter-spacing="0.4">36/38W</text>
<text x="604.08" y="514.85" font-size="18.5" text-anchor="middle" letter-spacing="0.4">38W</text>
<text x="682.53" y="514.85" font-size="18.5" text-anchor="middle" letter-spacing="0.4">38W</text>
<text x="3.90" y="537.95" font-size="18" letter-spacing="-0.55">92.5kg</text>
<text x="290.28" y="537.95" font-size="18.5" text-anchor="middle" letter-spacing="0.4">40W</text>
<text x="368.72" y="537.95" font-size="18.5" text-anchor="middle" letter-spacing="0.4">40W</text>
<text x="447.18" y="537.95" font-size="18.5" text-anchor="middle" letter-spacing="0.4">38/40W</text>
<text x="525.63" y="537.95" font-size="18.5" text-anchor="middle" letter-spacing="0.4">38W</text>
<text x="604.08" y="537.95" font-size="18.5" text-anchor="middle" letter-spacing="0.4">38W</text>
<text x="682.53" y="537.95" font-size="18.5" text-anchor="middle" letter-spacing="0.4">38W</text>
<text x="3.90" y="561.05" font-size="18" letter-spacing="-0.55">95-100kg</text>
<text x="368.72" y="561.05" font-size="18.5" text-anchor="middle" letter-spacing="0.4">40W</text>
<text x="447.18" y="561.05" font-size="18.5" text-anchor="middle" letter-spacing="0.4">40W</text>
<text x="525.63" y="561.05" font-size="18.5" text-anchor="middle" letter-spacing="0.4">38/40W</text>
<text x="604.08" y="561.05" font-size="18.5" text-anchor="middle" letter-spacing="0.4">38W</text>
<text x="682.53" y="561.05" font-size="18.5" text-anchor="middle" letter-spacing="0.4">38W</text>
<text x="3.90" y="584.15" font-size="18" letter-spacing="-0.55">105-110kg</text>
<text x="447.18" y="584.15" font-size="18.5" text-anchor="middle" letter-spacing="0.4">42W</text>
<text x="525.63" y="584.15" font-size="18.5" text-anchor="middle" letter-spacing="0.4">42W</text>
<text x="604.08" y="584.15" font-size="18.5" text-anchor="middle" letter-spacing="0.4">42W</text>
<text x="682.53" y="584.15" font-size="18.5" text-anchor="middle" letter-spacing="0.4">42W</text>
<text x="3.90" y="607.25" font-size="18" letter-spacing="-0.55">115-125kg</text>
<text x="525.63" y="607.25" font-size="18.5" text-anchor="middle" letter-spacing="0.4">44W</text>
<text x="604.08" y="607.25" font-size="18.5" text-anchor="middle" letter-spacing="0.4">44W</text>
<text x="682.53" y="607.25" font-size="18.5" text-anchor="middle" letter-spacing="0.4">44W</text>
</svg>
</body></html>
